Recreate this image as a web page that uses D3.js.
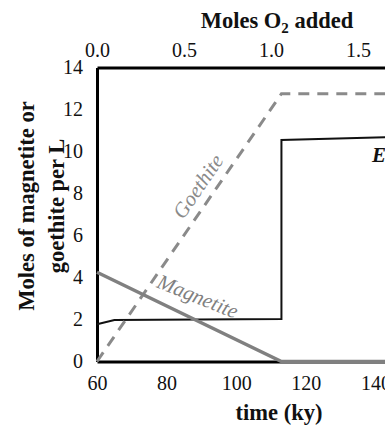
<!DOCTYPE html>
<html>
<head>
<meta charset="utf-8">
<script src="https://cdn.jsdelivr.net/npm/d3@7/dist/d3.min.js"></script>
<style>
  html, body { margin: 0; padding: 0; background: #fff; }
  svg { display: block; }
</style>
</head>
<body>
<svg id="chart" width="385" height="429"></svg>
<script>
// Time axis (ky) and the matching O2 axis along the top
const timeTicks = [60, 80, 100, 120, 140];
const o2Ticks = [0, 0.5, 1.0, 1.5];
const yTicks = [0, 2, 4, 6, 8, 10, 12, 14];

// Series: [time (ky), moles per L]
const goethite = [[60, 0], [113, 12.75], [160, 12.75]];
const magnetite = [[60, 4.25], [113, 0], [160, 0]];
const eSeries = [[60, 1.77], [65, 1.98], [113, 2.02], [113, 10.55], [160, 10.75]];

const svg = d3.select("#chart");
const serif = "'Liberation Serif', 'Times New Roman', serif";

const x = d3.scaleLinear().domain([60, 160]).range([97, 445]);
const y = d3.scaleLinear().domain([0, 14]).range([361.5, 67.5]);
// 1 mole of O2 is added every 50 ky from the start of the run
const xO2 = d3.scaleLinear().domain([0, 2]).range([x(60), x(160)]);

function styleAxis(g, size) {
  g.select(".domain").attr("stroke", "#000").attr("stroke-width", 3);
  g.selectAll(".tick line").remove();
  g.selectAll("text")
    .attr("font-family", serif)
    .attr("font-size", size)
    .attr("fill", "#111");
}

// bottom time axis
svg.append("g")
  .attr("transform", `translate(0,${y(0)})`)
  .call(d3.axisBottom(x).tickValues(timeTicks).tickSize(0).tickSizeOuter(0).tickPadding(14.5))
  .call(g => styleAxis(g, 20));

// top O2 axis
svg.append("g")
  .attr("transform", `translate(0,${y(14)})`)
  .call(d3.axisTop(xO2).tickValues(o2Ticks).tickFormat(d3.format(".1f")).tickSize(0).tickSizeOuter(0).tickPadding(10.5))
  .call(g => styleAxis(g, 20));

// left axis
svg.append("g")
  .attr("transform", `translate(${x(60)},0)`)
  .call(d3.axisLeft(y).tickValues(yTicks).tickSize(0).tickSizeOuter(0).tickPadding(14))
  .call(g => styleAxis(g, 20));

const line = d3.line().x(d => x(d[0])).y(d => y(d[1]));

svg.append("path").datum(eSeries)
  .attr("d", line).attr("fill", "none")
  .attr("stroke", "#111").attr("stroke-width", 2);

svg.append("path").datum(goethite)
  .attr("d", line).attr("fill", "none")
  .attr("stroke", "#8a8a8a").attr("stroke-width", 3)
  .attr("stroke-dasharray", "11,8");

svg.append("path").datum(magnetite)
  .attr("d", line).attr("fill", "none")
  .attr("stroke", "#808080").attr("stroke-width", 3.5);

// series labels set along their lines
const gAngle = Math.atan2(y(12.75) - y(0), x(113) - x(60)) * 180 / Math.PI;
svg.append("text")
  .attr("transform", `translate(${x(90.7)},${y(8.15)}) rotate(${gAngle})`)
  .attr("text-anchor", "middle")
  .attr("font-family", serif).attr("font-style", "italic")
  .attr("font-size", 21).attr("fill", "#8a8a8a")
  .text("Goethite");

svg.append("text")
  .attr("transform", `translate(${x(88.2)},${y(2.79)}) rotate(22)`)
  .attr("text-anchor", "middle")
  .attr("font-family", serif).attr("font-style", "italic")
  .attr("font-size", 21).attr("fill", "#808080")
  .text("Magnetite");

svg.append("text")
  .attr("x", x(139)).attr("y", y(9.5))
  .attr("font-family", serif).attr("font-style", "italic").attr("font-weight", "bold")
  .attr("font-size", 21).attr("fill", "#111")
  .text("E");

// axis titles
const topTitle = svg.append("text")
  .attr("x", 277).attr("y", 28)
  .attr("text-anchor", "middle")
  .attr("font-family", serif).attr("font-weight", "bold")
  .attr("font-size", 22.5).attr("fill", "#111");
topTitle.append("tspan").text("Moles O");
topTitle.append("tspan").attr("font-size", 15).attr("dy", 5).text("2");
topTitle.append("tspan").attr("dy", -5).text(" added");

svg.append("text")
  .attr("x", 279).attr("y", 420)
  .attr("text-anchor", "middle")
  .attr("font-family", serif).attr("font-weight", "bold")
  .attr("font-size", 22.5).attr("fill", "#111")
  .text("time (ky)");

const yTitle = svg.append("text")
  .attr("transform", "translate(34,206) rotate(-90)")
  .attr("text-anchor", "middle")
  .attr("font-family", serif).attr("font-weight", "bold")
  .attr("font-size", 22.5).attr("fill", "#111");
yTitle.append("tspan").attr("x", 0).attr("y", 0).text("Moles of magnetite or");
yTitle.append("tspan").attr("x", 0).attr("y", 30).text("goethite per L");
</script>
</body>
</html>
